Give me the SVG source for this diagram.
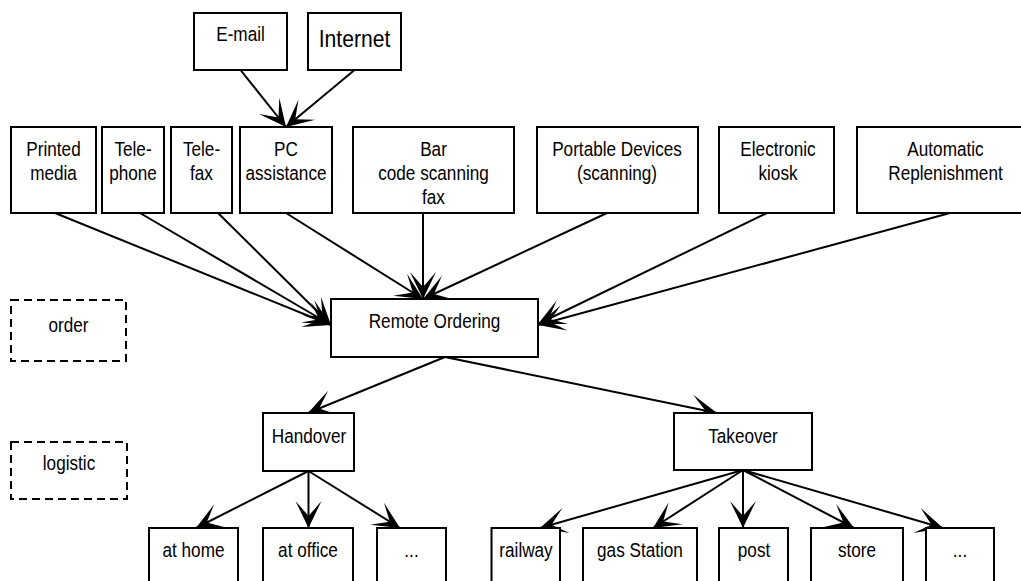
<svg xmlns="http://www.w3.org/2000/svg" width="1021" height="581" viewBox="0 0 1021 581">
  <style>
    .box { fill: #ffffff; stroke: #000000; stroke-width: 2; }
    .dash { fill: #ffffff; stroke: #000000; stroke-width: 2; stroke-dasharray: 8 5; }
    .edge { fill: none; stroke: #000000; stroke-width: 2; marker-end: url(#arrow); }
    text { font-family: "Liberation Sans", Arial, sans-serif; font-size: 19.5px; fill: #000000; text-anchor: middle; }
    .big { font-size: 24px; }
  </style>
  <defs>
    <marker id="arrow" markerUnits="userSpaceOnUse" viewBox="-30 -15 32 30" markerWidth="32" markerHeight="30" refX="0" refY="0" orient="auto">
      <path d="M0,0 L-27,-13 L-12,0 L-27,13 Z" fill="#000000"/>
    </marker>
  </defs>

  <rect width="1021" height="581" fill="#ffffff"/>

  <!-- connectors -->
  <g id="connectors">
    <line class="edge" x1="240.5" y1="70" x2="286" y2="127"/>
    <line class="edge" x1="354.5" y1="70" x2="286" y2="127"/>
    <line class="edge" x1="55" y1="213" x2="331" y2="325"/>
    <line class="edge" x1="140" y1="213" x2="331" y2="325"/>
    <line class="edge" x1="218" y1="213" x2="331" y2="325"/>
    <line class="edge" x1="286" y1="213" x2="423" y2="299"/>
    <line class="edge" x1="423" y1="213" x2="423" y2="299"/>
    <line class="edge" x1="607" y1="213" x2="423" y2="299"/>
    <line class="edge" x1="767" y1="213" x2="538" y2="324"/>
    <line class="edge" x1="950" y1="213" x2="538" y2="325"/>
    <line class="edge" x1="445" y1="357" x2="308" y2="413"/>
    <line class="edge" x1="445" y1="357" x2="717" y2="413"/>
    <line class="edge" x1="308.5" y1="471" x2="196" y2="528"/>
    <line class="edge" x1="308.5" y1="471" x2="308.5" y2="528"/>
    <line class="edge" x1="308.5" y1="471" x2="400" y2="528"/>
    <line class="edge" x1="743" y1="470" x2="540" y2="528"/>
    <line class="edge" x1="743" y1="470" x2="653" y2="528"/>
    <line class="edge" x1="743" y1="470" x2="743" y2="528"/>
    <line class="edge" x1="743" y1="470" x2="854" y2="528"/>
    <line class="edge" x1="743" y1="470" x2="943" y2="528"/>
  </g>

  <!-- top sources -->
  <g id="email">
    <rect class="box" x="194" y="13" width="93" height="57"/>
    <text transform="translate(240.5 0) scale(0.88 1)" x="0" y="41">E-mail</text>
  </g>
  <g id="internet">
    <rect class="box" x="308" y="13" width="93" height="57"/>
    <text class="big" transform="translate(354.5 0) scale(0.88 1)" x="0" y="47">Internet</text>
  </g>

  <!-- ordering channels -->
  <g id="printed-media">
    <rect class="box" x="11" y="127" width="85" height="86"/>
    <text transform="translate(53.5 0) scale(0.88 1)"><tspan x="0" y="156">Printed</tspan><tspan x="0" y="180">media</tspan></text>
  </g>
  <g id="telephone">
    <rect class="box" x="102" y="127" width="62" height="86"/>
    <text transform="translate(133 0) scale(0.88 1)"><tspan x="0" y="156">Tele-</tspan><tspan x="0" y="180">phone</tspan></text>
  </g>
  <g id="telefax">
    <rect class="box" x="171" y="127" width="61" height="86"/>
    <text transform="translate(201.5 0) scale(0.88 1)"><tspan x="0" y="156">Tele-</tspan><tspan x="0" y="180">fax</tspan></text>
  </g>
  <g id="pc-assistance">
    <rect class="box" x="240" y="127" width="92" height="86"/>
    <text transform="translate(286 0) scale(0.88 1)"><tspan x="0" y="156">PC</tspan><tspan x="0" y="180">assistance</tspan></text>
  </g>
  <g id="barcode-fax">
    <rect class="box" x="353" y="127" width="161" height="86"/>
    <text transform="translate(433.5 0) scale(0.88 1)"><tspan x="0" y="156">Bar</tspan><tspan x="0" y="180">code scanning</tspan><tspan x="0" y="204">fax</tspan></text>
  </g>
  <g id="portable-devices">
    <rect class="box" x="537" y="127" width="161" height="86"/>
    <text transform="translate(617 0) scale(0.88 1)"><tspan x="0" y="156">Portable Devices</tspan><tspan x="0" y="180">(scanning)</tspan></text>
  </g>
  <g id="electronic-kiosk">
    <rect class="box" x="719" y="127" width="115" height="86"/>
    <text transform="translate(778 0) scale(0.88 1)"><tspan x="0" y="156">Electronic</tspan><tspan x="0" y="180">kiosk</tspan></text>
  </g>
  <g id="automatic-replenishment">
    <rect class="box" x="857" y="127" width="177" height="86"/>
    <text transform="translate(945.5 0) scale(0.88 1)"><tspan x="0" y="156">Automatic</tspan><tspan x="0" y="180">Replenishment</tspan></text>
  </g>

  <!-- central node -->
  <g id="remote-ordering">
    <rect class="box" x="331" y="299" width="207" height="58"/>
    <text transform="translate(434.5 0) scale(0.88 1)" x="0" y="328">Remote Ordering</text>
  </g>

  <!-- layer labels -->
  <g id="layer-order">
    <rect class="dash" x="11" y="300" width="115" height="61"/>
    <text transform="translate(68.5 0) scale(0.88 1)" x="0" y="332">order</text>
  </g>
  <g id="layer-logistic">
    <rect class="dash" x="11" y="442" width="116" height="57"/>
    <text transform="translate(69 0) scale(0.88 1)" x="0" y="470">logistic</text>
  </g>

  <!-- logistics -->
  <g id="handover">
    <rect class="box" x="263" y="413" width="91" height="58"/>
    <text transform="translate(309 0) scale(0.88 1)" x="0" y="443">Handover</text>
  </g>
  <g id="takeover">
    <rect class="box" x="674" y="413" width="138" height="57"/>
    <text transform="translate(743 0) scale(0.88 1)" x="0" y="443">Takeover</text>
  </g>

  <!-- delivery points -->
  <g id="at-home">
    <rect class="box" x="149" y="528" width="89" height="70"/>
    <text transform="translate(193.5 0) scale(0.88 1)" x="0" y="557">at home</text>
  </g>
  <g id="at-office">
    <rect class="box" x="263" y="528" width="90" height="70"/>
    <text transform="translate(308 0) scale(0.88 1)" x="0" y="557">at office</text>
  </g>
  <g id="handover-more">
    <rect class="box" x="377" y="528" width="69" height="70"/>
    <text transform="translate(411.5 0) scale(0.88 1)" x="0" y="557">...</text>
  </g>
  <g id="railway">
    <rect class="box" x="491.5" y="528" width="68.5" height="70"/>
    <text transform="translate(526 0) scale(0.88 1)" x="0" y="557">railway</text>
  </g>
  <g id="gas-station">
    <rect class="box" x="583" y="528" width="114" height="70"/>
    <text transform="translate(640 0) scale(0.88 1)" x="0" y="557">gas Station</text>
  </g>
  <g id="post">
    <rect class="box" x="719" y="528" width="69" height="70"/>
    <text transform="translate(754 0) scale(0.88 1)" x="0" y="557">post</text>
  </g>
  <g id="store">
    <rect class="box" x="811" y="528" width="92" height="70"/>
    <text transform="translate(857 0) scale(0.88 1)" x="0" y="557">store</text>
  </g>
  <g id="takeover-more">
    <rect class="box" x="926" y="528" width="68" height="70"/>
    <text transform="translate(960 0) scale(0.88 1)" x="0" y="557">...</text>
  </g>
</svg>
